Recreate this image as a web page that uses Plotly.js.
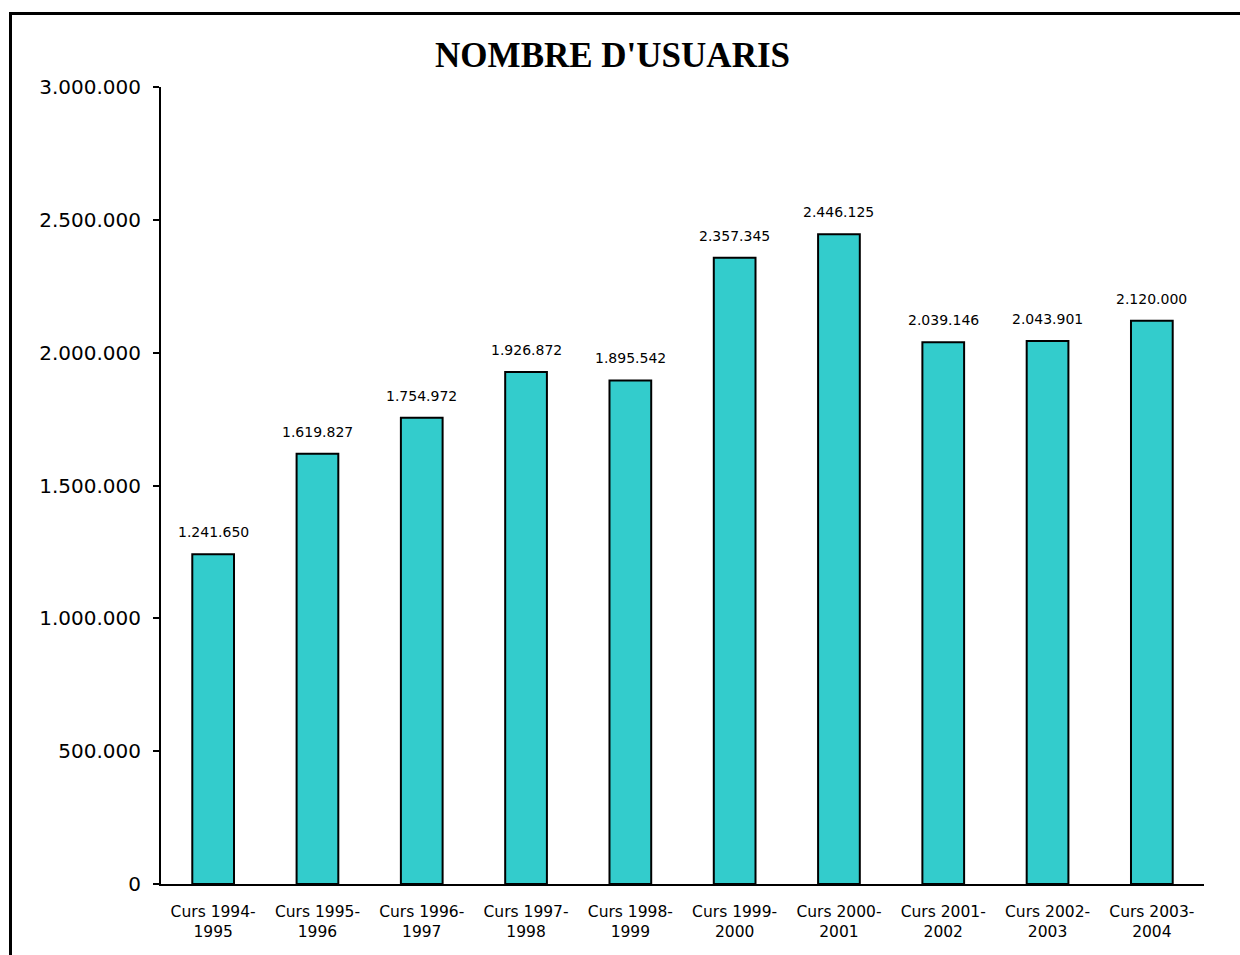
<!DOCTYPE html>
<html>
<head>
<meta charset="utf-8">
<script src="https://cdn.plot.ly/plotly-3.0.1.min.js"></script>
<style>
html,body{margin:0;padding:0;overflow:hidden;background:#fff;}
#chart{position:absolute;left:0;top:0;width:1240px;height:955px;}
#frame{position:absolute;left:9px;top:12px;width:1400px;height:1100px;border:3px solid #000;pointer-events:none;box-sizing:border-box;}
</style>
</head>
<body>
<div id="chart"></div>
<div id="frame"></div>
<script>
const categories = ["Curs 1994-<br>1995","Curs 1995-<br>1996","Curs 1996-<br>1997","Curs 1997-<br>1998","Curs 1998-<br>1999","Curs 1999-<br>2000","Curs 2000-<br>2001","Curs 2001-<br>2002","Curs 2002-<br>2003","Curs 2003-<br>2004"];
const usuaris = [1241650,1619827,1754972,1926872,1895542,2357345,2446125,2039146,2043901,2120000];
const yTicks = [0,500000,1000000,1500000,2000000,2500000,3000000];
const titleText = "NOMBRE D'USUARIS";

function fmt(v){ return String(v).replace(/\B(?=(\d{3})+(?!\d))/g,'.'); }

const trace = {
  type:'bar',
  x: categories,
  y: usuaris,
  width: 0.4,
  marker:{color:'#33CCCC', line:{color:'#000', width:2}},
  hoverinfo:'none'
};
const labelAnnotations = categories.map((c,i)=>({
  x:c, y:usuaris[i], xref:'x', yref:'y', text:fmt(usuaris[i]),
  showarrow:false, yanchor:'bottom', yshift:12,
  font:{family:'DejaVu Sans, sans-serif', size:14, color:'#000'}
}));
const layout = {
  width:1240, height:955,
  separators:',.',
  paper_bgcolor:'#fff', plot_bgcolor:'#fff',
  margin:{l:161, r:36, t:87, b:71},
  showlegend:false,
  title:{text:'<b>'+titleText+'</b>', x:0.494, xanchor:'center', y:0.943, yanchor:'middle',
    font:{family:'Liberation Serif, Times New Roman, serif', size:35, color:'#000'}},
  xaxis:{
    showline:true, linecolor:'#000', linewidth:2, ticks:'', showgrid:false,
    tickfont:{family:'DejaVu Sans, sans-serif', size:15.5, color:'#000'},
    tickangle:0, ticklabelstandoff:12
  },
  yaxis:{
    range:[0,3000000], tickvals:yTicks, tickformat:',d',
    showline:true, linecolor:'#000', linewidth:2, ticks:'outside', ticklen:6, tickwidth:2, tickcolor:'#000',
    showgrid:false, zeroline:false,
    tickfont:{family:'DejaVu Sans, sans-serif', size:20, color:'#000'},
    ticklabelstandoff:8
  },
  annotations: labelAnnotations
};
Plotly.newPlot('chart',[trace],layout,{displayModeBar:false, staticPlot:true});
</script>
</body>
</html>
